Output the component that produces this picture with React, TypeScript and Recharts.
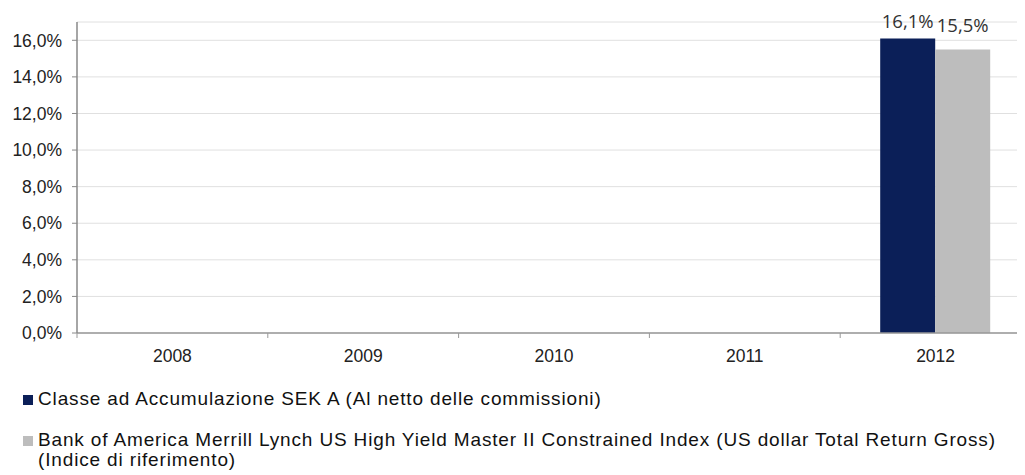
import React from 'react';
import { BarChart, Bar, XAxis, YAxis, CartesianGrid, LabelList } from 'recharts';

const categories = ['2008', '2009', '2010', '2011', '2012'];
const fundValues: (number | null)[] = [null, null, null, null, 0.161];
const indexValues: (number | null)[] = [null, null, null, null, 0.155];
const yTicks = [0, 0.02, 0.04, 0.06, 0.08, 0.1, 0.12, 0.14, 0.16];
const seriesNames = [
  'Classe ad Accumulazione SEK A (Al netto delle commissioni)',
  'Bank of America Merrill Lynch US High Yield Master II Constrained Index (US dollar Total Return Gross) (Indice di riferimento)',
];
const colors = ['#0b1f58', '#bdbdbd'];

const data = categories.map((c, i) => ({ year: c, fund: fundValues[i], index: indexValues[i] }));

const CHART_W = 1030;
const Y_W = 69;
const M_RIGHT = 7;
const BAND = (CHART_W - Y_W - M_RIGHT) / categories.length;
const FONT = 'Liberation Sans, Arial, sans-serif';

const fmt = (v: number) => (v * 100).toFixed(1).replace('.', ',') + '%';

const XTick = (props: any) => {
  const { x, y, payload, index } = props;
  const left = x - BAND / 2;
  return (
    <g>
      <line x1={left} y1={y - 8} x2={left} y2={y - 3} stroke="#999" strokeWidth={1} />
      {index === categories.length - 1 && (
        <line x1={x + BAND / 2} y1={y - 8} x2={x + BAND / 2} y2={y - 3} stroke="#999" strokeWidth={1} />
      )}
      <text x={x} y={y + 21} textAnchor="middle" fontFamily={FONT} fontSize={17.5} fill="#222">
        {payload.value}
      </text>
    </g>
  );
};

const makeLabel = (dy: number) => (props: any) => {
  const { x, y, width, value } = props;
  if (value == null) return null;
  return (
    <text x={x + width / 2} y={y + dy} textAnchor="middle" fontFamily="'Open Sans', 'Noto Sans', sans-serif" fontSize={18.5} fill="#333">
      {fmt(value)}
    </text>
  );
};

const splitName = (s: string) => {
  const i = s.lastIndexOf(' (');
  return i > 0 && s.length > 80 ? [s.slice(0, i), s.slice(i + 1)] : [s];
};

const LegendText = ({ x, y, children }: any) => (
  <text x={x} y={y} fontFamily={FONT} fontSize={19} letterSpacing={0.85} fill="#111">
    {children}
  </text>
);

export default function App() {
  return (
    <div style={{ width: 1017, height: 467, overflow: 'hidden', position: 'relative', background: '#fff' }}>
      <BarChart
        width={CHART_W}
        height={360}
        data={data}
        margin={{ top: 14, right: M_RIGHT, left: 0, bottom: 5 }}
        barCategoryGap={40}
        barGap={0}
      >
        <CartesianGrid vertical={false} stroke="#e0e0e0" />
        <XAxis
          dataKey="year"
          tick={<XTick />}
          tickLine={false}
          axisLine={{ stroke: '#999', strokeWidth: 1.5 }}
          height={30}
          interval={0}
        />
        <YAxis
          width={Y_W}
          domain={[0, 0.17]}
          ticks={yTicks}
          tickFormatter={fmt}
          axisLine={{ stroke: '#888', strokeWidth: 1.5 }}
          tickLine={{ stroke: '#888' }}
          tickSize={5}
          tickMargin={10}
          tick={{ fontFamily: FONT, fontSize: 17.5, fill: '#222' }}
          allowDataOverflow
        />
        <Bar dataKey="fund" fill={colors[0]} isAnimationActive={false}>
          <LabelList dataKey="fund" content={makeLabel(-10)} />
        </Bar>
        <Bar dataKey="index" fill={colors[1]} isAnimationActive={false}>
          <LabelList dataKey="index" content={makeLabel(-17)} />
        </Bar>
      </BarChart>
      <svg width={1017} height={107} style={{ position: 'absolute', left: 0, top: 360 }}>
        <rect x={15} y={27} width={10} height={10} fill={colors[0]} />
        <LegendText x={30} y={37}>{seriesNames[0]}</LegendText>
        <rect x={15} y={68} width={10} height={10} fill={colors[1]} />
        {splitName(seriesNames[1]).map((line, i) => (
          <LegendText key={i} x={30} y={78 + i * 20}>{line}</LegendText>
        ))}
      </svg>
    </div>
  );
}
